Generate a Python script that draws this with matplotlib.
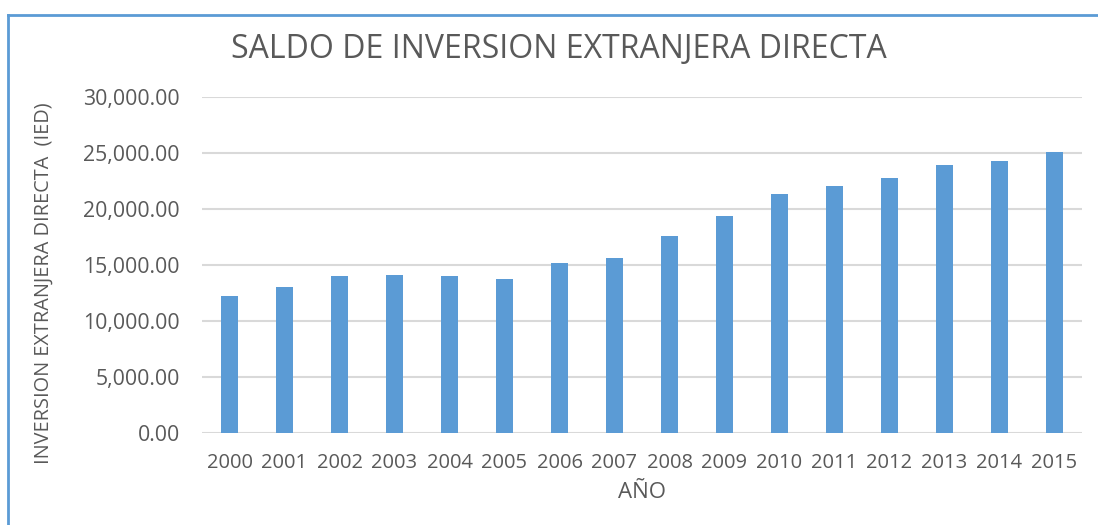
import matplotlib.pyplot as plt
from matplotlib.lines import Line2D
from matplotlib.ticker import FuncFormatter

years = ['2000', '2001', '2002', '2003', '2004', '2005', '2006', '2007',
         '2008', '2009', '2010', '2011', '2012', '2013', '2014', '2015']
ied = [12300, 13050, 14050, 14130, 14050, 13800, 15230, 15620,
       17620, 19400, 21400, 22050, 22770, 23980, 24340, 25120]
yticks = [0, 5000, 10000, 15000, 20000, 25000, 30000]

plt.rcParams['font.family'] = ['Open Sans', 'DejaVu Sans']
txt = '#595959'

fig = plt.figure(figsize=(10.98, 5.25), dpi=100)
ax = fig.add_axes([202 / 1098, 1 - 433.3 / 525, 880 / 1098, 336 / 525])

ax.bar(range(len(years)), ied, width=0.3, color='#5b9bd5', zorder=3)

ax.set_xlim(-0.5, len(years) - 0.5)
ax.set_ylim(0, 30000)
ax.set_yticks(yticks)
ax.yaxis.set_major_formatter(FuncFormatter(lambda v, p: f'{v:,.2f}'))
ax.set_xticks(range(len(years)))
ax.set_xticklabels(years)

ax.grid(axis='y', color='#d9d9d9', linewidth=1.5, zorder=0)
for s in ax.spines.values():
    s.set_visible(False)
ax.tick_params(axis='both', length=0, colors=txt)
ax.tick_params(axis='y', pad=16, labelsize=15.3)
ax.tick_params(axis='x', pad=14, labelsize=14.5)

ax.set_xlabel('AÑO', color=txt, fontsize=16, labelpad=7)
ax.set_ylabel('INVERSION EXTRANJERA DIRECTA  (IED)', color=txt, fontsize=14.3)
ax.yaxis.set_label_coords(-0.169, 0.447)
fig.text(559 / 1098, 1 - 50 / 525, 'SALDO DE INVERSION EXTRANJERA DIRECTA',
         ha='center', va='center', color=txt, fontsize=23)

# blue chart border (top and left visible)
fig.add_artist(Line2D([7.5 / 1098, 7.5 / 1098], [0, 1 - 15 / 525], color='#5b9bd5', linewidth=2))
fig.add_artist(Line2D([7.5 / 1098, 1], [1 - 15 / 525, 1 - 15 / 525], color='#5b9bd5', linewidth=2))

fig.savefig('out.png', dpi=100)
